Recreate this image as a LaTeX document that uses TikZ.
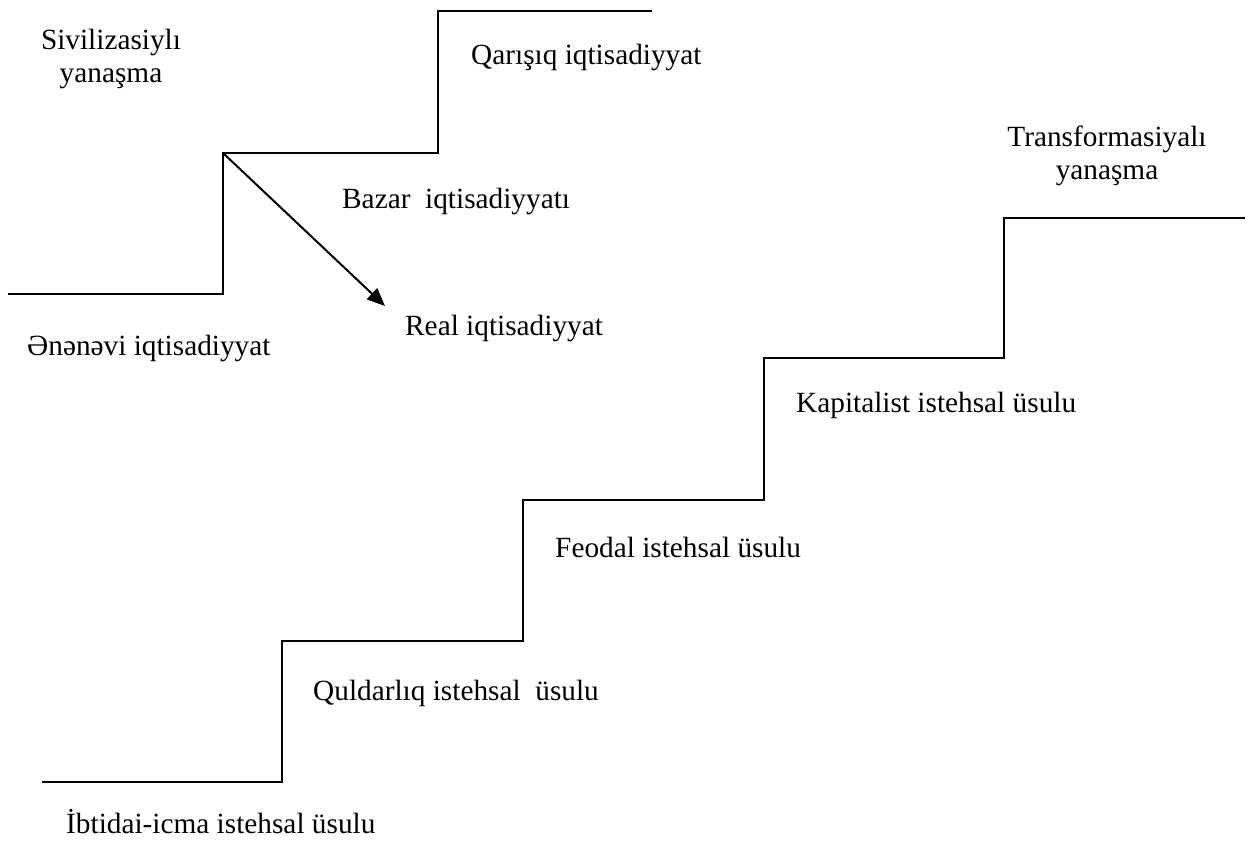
\documentclass[tikz,border=0pt]{standalone}
\usepackage{fontspec}
\setmainfont{Liberation Serif}
\usetikzlibrary{arrows.meta}
\begin{document}
\begin{tikzpicture}[x=1pt,y=-1pt,
  lbl/.style={font=\fontsize{29.3}{33}\selectfont, inner sep=0pt, anchor=base west},
  lbl2/.style={font=\fontsize{29.3}{33}\selectfont, inner sep=0pt, align=center, anchor=base},
  stair/.style={line width=2.4pt, line join=miter},
  arr/.style={line width=2pt, -{Triangle[length=18pt,width=15pt]}}]
\useasboundingbox (0,0) rectangle (1246,841);
% upper staircase
\coordinate (a0) at (8,294);
\coordinate (a1) at (223,294);
\coordinate (a2) at (223,153);
\coordinate (a3) at (438,153);
\coordinate (a4) at (438,11);
\coordinate (a5) at (652,11);
\coordinate (ae) at (385,306);
\draw[stair] (a0) -- (a1) -- (a2) -- (a3) -- (a4) -- (a5);
\draw[arr] (a2) -- (ae);
% lower staircase
\coordinate (b0) at (42,782);
\coordinate (b1) at (282,782);
\coordinate (b2) at (282,641);
\coordinate (b3) at (523,641);
\coordinate (b4) at (523,500);
\coordinate (b5) at (764,500);
\coordinate (b6) at (764,358);
\coordinate (b7) at (1004,358);
\coordinate (b8) at (1004,218);
\coordinate (b9) at (1245,218);
\draw[stair] (b0) -- (b1) -- (b2) -- (b3) -- (b4) -- (b5) -- (b6) -- (b7) -- (b8) -- (b9);
% labels
\node[lbl2] (siv) at (111,82) {Sivilizasiylı\\yanaşma};
\node[lbl] (qar) at (471,64) {Qarışıq iqtisadiyyat};
\node[lbl] (baz) at (342,208) {Bazar\ \ iqtisadiyyatı};
\node[lbl] (real) at (405,335) {Real iqtisadiyyat};
\node[lbl] (ene) at (27,355) {Ənənəvi iqtisadiyyat};
\node[lbl2] (tra) at (1107,179) {Transformasiyalı\\yanaşma};
\node[lbl] (kap) at (796,412) {Kapitalist istehsal üsulu};
\node[lbl] (feo) at (555,557) {Feodal istehsal üsulu};
\node[lbl] (qul) at (313,700) {Quldarlıq istehsal\ \ üsulu};
\node[lbl] (ibt) at (66,833) {İbtidai-icma istehsal üsulu};
\end{tikzpicture}
\end{document}
